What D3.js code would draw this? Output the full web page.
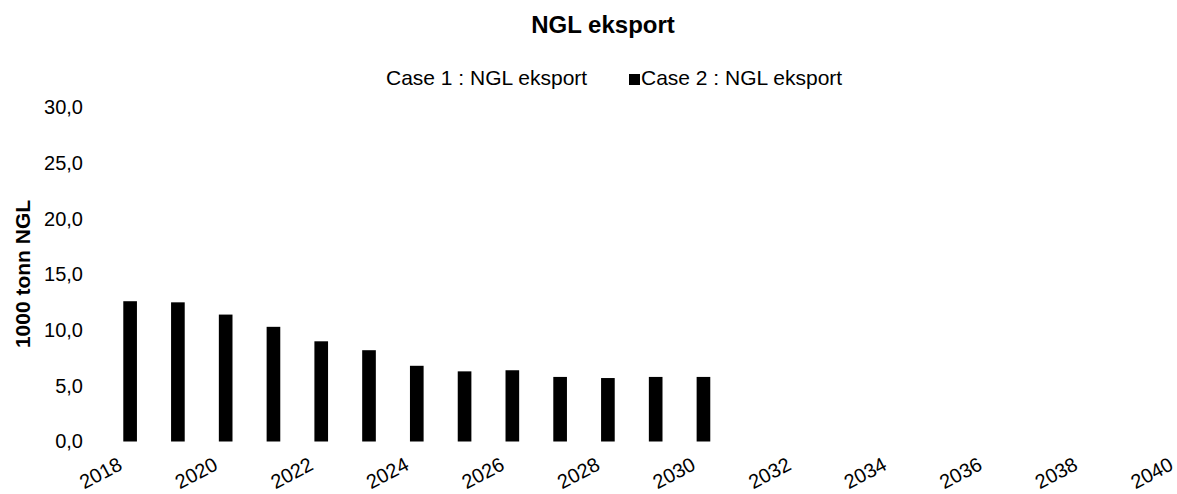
<!DOCTYPE html>
<html>
<head>
<meta charset="utf-8">
<script src="https://cdn.jsdelivr.net/npm/d3@7"></script>
<style>
  html, body { margin: 0; padding: 0; background: #fff; }
  svg { display: block; font-family: "Liberation Sans", Arial, sans-serif; }
</style>
</head>
<body>
<svg id="chart" width="1177" height="494"></svg>
<script>
// Category axis: yearly, labelled every second year
const years = d3.range(2018, 2041);
const tickYears = d3.range(2018, 2041, 2);

// Series (1000 tonn NGL); Case 1 carries no plotted values
const seriesNames = ["Case 1 : NGL eksport", "Case 2 : NGL eksport"];
const case1Values = [];
const case2Values = [12.6, 12.5, 11.4, 10.3, 9.0, 8.2, 6.8, 6.3, 6.4, 5.8, 5.7, 5.8, 5.8];

const yTicks = [0, 5, 10, 15, 20, 25, 30];

const svg = d3.select("#chart");
const fmt = v => d3.format(".1f")(v).replace(".", ",");

const x = d3.scaleBand().domain(years).range([99.4, 1198.3]).paddingInner(0).paddingOuter(0);
const xs = d3.scaleBand().domain(seriesNames).range([0, x.bandwidth()]).paddingInner(0).paddingOuter(0.75);
const y = d3.scaleLinear().domain([0, 30]).range([441.5, 107.5]);

// Title
svg.append("text")
  .attr("x", 603).attr("y", 33)
  .attr("text-anchor", "middle")
  .attr("font-size", 24).attr("font-weight", "bold")
  .text("NGL eksport");

// Legend
const legend = svg.append("g").attr("font-size", 21);
const legendItems = [
  { name: seriesNames[0], fill: "#fff", x: 386 },
  { name: seriesNames[1], fill: "#000", x: 641 }
];
legendItems.forEach(d => {
  legend.append("rect").attr("x", d.x - 12).attr("y", 74).attr("width", 11).attr("height", 11).attr("fill", d.fill);
  legend.append("text").attr("x", d.x).attr("y", 85).text(d.name);
});

// Y axis
const yAxis = svg.append("g")
  .attr("transform", "translate(86,0)")
  .call(d3.axisLeft(y).tickValues(yTicks).tickFormat(fmt).tickSize(0).tickPadding(3));
yAxis.select(".domain").remove();
yAxis.selectAll("text").attr("font-size", 20).attr("font-family", "Liberation Sans, Arial, sans-serif").attr("fill", "#000");

svg.append("text")
  .attr("transform", "translate(30,274) rotate(-90)")
  .attr("text-anchor", "middle")
  .attr("font-size", 21).attr("font-weight", "bold")
  .text("1000 tonn NGL");

// X axis
const xAxis = svg.append("g")
  .attr("transform", "translate(0,441.5)")
  .call(d3.axisBottom(x).tickValues(tickYears).tickSize(0).tickPadding(0));
xAxis.select(".domain").remove();
xAxis.selectAll("text")
  .attr("font-size", 20).attr("font-family", "Liberation Sans, Arial, sans-serif").attr("fill", "#000")
  .attr("text-anchor", "end")
  .attr("y", 0).attr("dy", "0.35em")
  .attr("transform", "translate(-3,21) rotate(-28)");

// Bars
const data = [];
case1Values.forEach((v, i) => data.push({ year: years[i], series: seriesNames[0], value: v, fill: "#fff" }));
case2Values.forEach((v, i) => data.push({ year: years[i], series: seriesNames[1], value: v, fill: "#000" }));

svg.append("g").selectAll("rect")
  .data(data)
  .join("rect")
  .attr("x", d => x(d.year) + xs(d.series))
  .attr("width", xs.bandwidth())
  .attr("y", d => y(d.value))
  .attr("height", d => y(0) - y(d.value))
  .attr("fill", d => d.fill);
</script>
</body>
</html>
